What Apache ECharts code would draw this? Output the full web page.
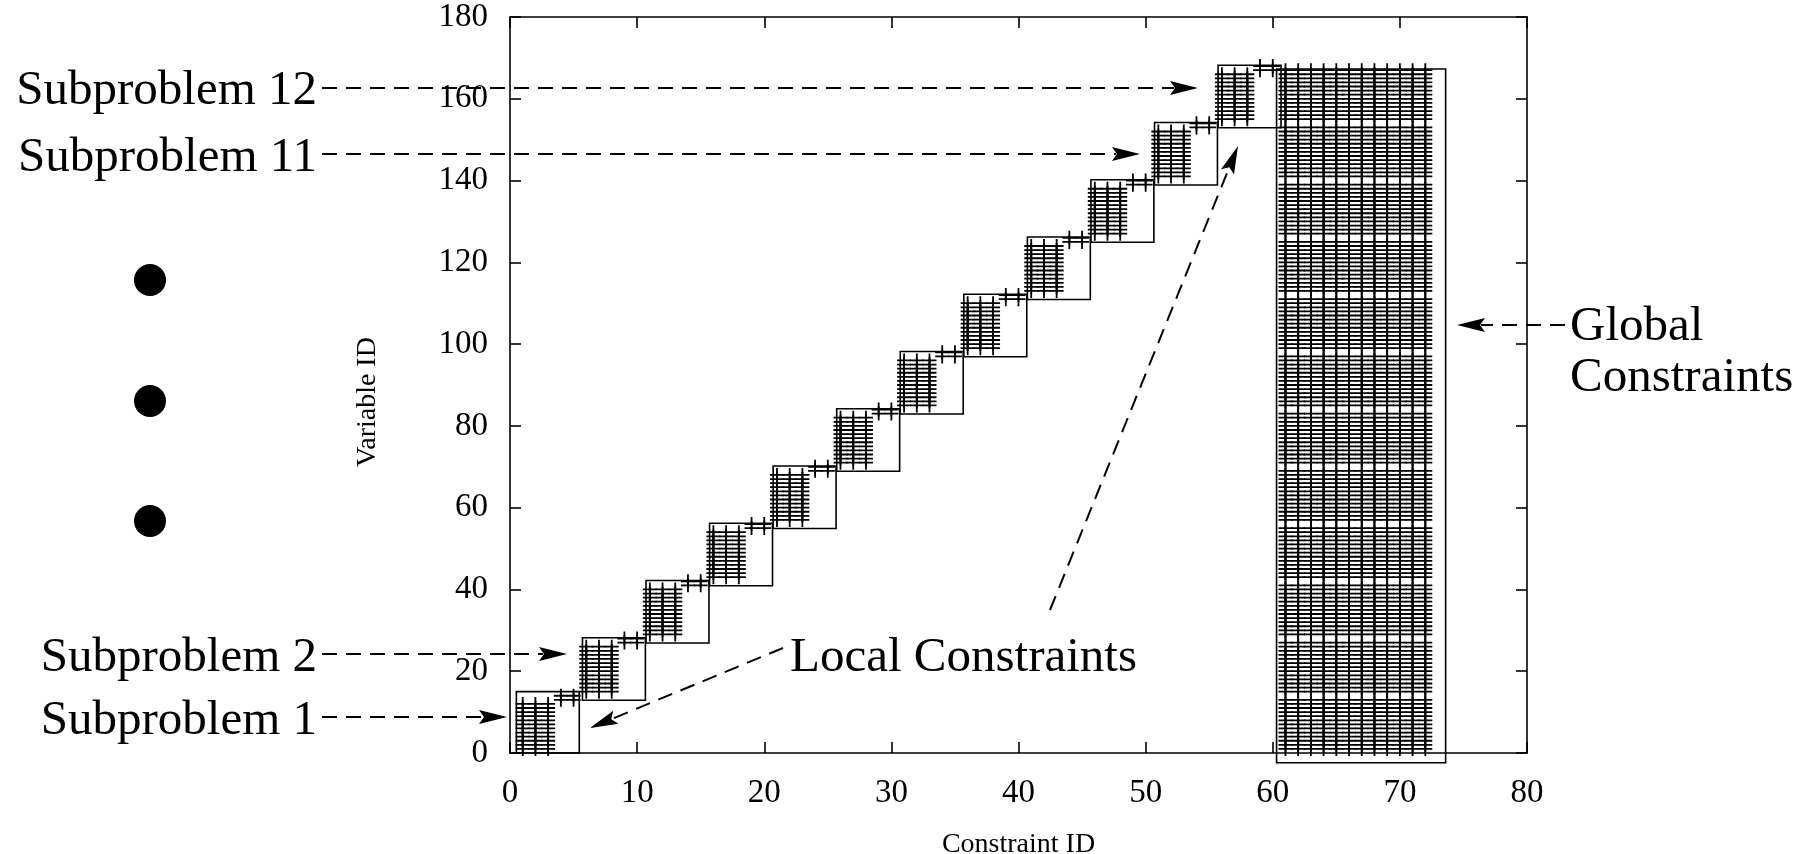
<!DOCTYPE html>
<html>
<head>
<meta charset="utf-8">
<script src="https://cdn.jsdelivr.net/npm/echarts@6/dist/echarts.min.js"></script>
<style>
html, body { margin: 0; padding: 0; background: #fff; }
#main { width: 1805px; height: 854px; }
</style>
</head>
<body>
<div id="main"></div>
<script>
// block structure (constraint ID on x, variable ID on y)
var subproblems = ['1', '2', '3', '4', '5', '6', '7', '8', '9', '10', '11', '12'];

// local constraints of each subproblem and the variable range they touch
var localCons = [[1, 2, 3], [6, 7, 8], [11, 12, 13], [16, 17, 18], [21, 22, 23], [26, 27, 28],
    [31, 32, 33], [36, 37, 38], [41, 42, 43], [46, 47, 48], [51, 52, 53], [56, 57, 58]];
var localVars = [[1, 12], [15, 26], [29, 40], [43, 54], [57, 68], [71, 82],
    [85, 96], [99, 110], [113, 124], [127, 138], [141, 152], [155, 166]];

// the small "++" groups at the top right of each block
var linkCons = [[4, 5], [9, 10], [14, 15], [19, 20], [24, 25], [29, 30],
    [34, 35], [39, 40], [44, 45], [49, 50], [54, 55], [59, 60]];
var linkVars = [[13, 14], [27, 28], [41, 42], [55, 56], [69, 70], [83, 84],
    [97, 98], [111, 112], [125, 126], [139, 140], [153, 154], [167, 168]];

// global constraints: every variable except the last one of each subproblem
var globalCons = [61, 62, 63, 64, 65, 66, 67, 68, 69, 70, 71, 72];
var globalVars = [[1, 13], [15, 27], [29, 41], [43, 55], [57, 69], [71, 83],
    [85, 97], [99, 111], [113, 125], [127, 139], [141, 153], [155, 167]];

// rectangles drawn round the blocks, in axis units
var boxLeft = [0.5, 5.7, 10.7, 15.7, 20.7, 25.7, 30.7, 35.7, 40.7, 45.7, 50.7, 55.7];
var boxRight = [5.45, 10.65, 15.65, 20.65, 25.65, 30.65, 35.65, 40.65, 45.65, 50.65, 55.65, 60.65];
var boxBottom = [0, 12.9, 26.9, 40.9, 54.9, 68.9, 82.9, 96.9, 110.9, 124.9, 138.9, 152.9];
var boxTop = [15, 28.2, 42.2, 56.2, 70.2, 84.2, 98.2, 112.2, 126.2, 140.2, 154.2, 168.2];
var globalBox = [60.3, 73.6, -2.4, 167.3];

var serif = '"Liberation Serif", "DejaVu Serif", serif';

var chart = echarts.init(document.getElementById('main'));

var marks = [];
function addBlock(cons, range) {
    cons.forEach(function (c) {
        for (var v = range[0]; v <= range[1]; v++) {
            marks.push([c, v]);
        }
    });
}
subproblems.forEach(function (s, i) {
    addBlock(localCons[i], localVars[i]);
    addBlock(linkCons[i], linkVars[i]);
    addBlock(globalCons, globalVars[i]);
});

var boxes = subproblems.map(function (s, i) {
    return [boxLeft[i], boxRight[i], boxBottom[i], boxTop[i]];
});
boxes.push(globalBox);

var plus = 'path://M0,6.1H14V7.9H0Z M6.1,0H7.9V14H6.1Z';

function arrow(x1, y1, x2, y2) {
    var dx = x2 - x1, dy = y2 - y1;
    var len = Math.sqrt(dx * dx + dy * dy);
    var ux = dx / len, uy = dy / len;
    var bx = x2 - ux * 28, by = y2 - uy * 28;
    return [
        {
            type: 'line',
            shape: { x1: x1, y1: y1, x2: bx + ux * 4, y2: by + uy * 4 },
            style: { stroke: '#000', lineWidth: 2, lineDash: [15, 9] }
        },
        {
            type: 'polygon',
            shape: {
                points: [[x2, y2], [bx - uy * 7, by + ux * 7], [bx + ux * 5, by + uy * 5], [bx + uy * 7, by - ux * 7]]
            },
            style: { fill: '#000' }
        }
    ];
}

function label(text, x, y, align) {
    return {
        type: 'text',
        style: {
            text: text, x: x, y: y,
            font: '49px ' + serif,
            fill: '#000',
            align: align, textAlign: align,
            verticalAlign: 'middle', textVerticalAlign: 'middle'
        }
    };
}

var graphics = [].concat(
    label('Subproblem 12', 317, 91, 'right'),
    label('Subproblem 11', 317, 158, 'right'),
    label('Subproblem 2', 317, 658, 'right'),
    label('Subproblem 1', 317, 721, 'right'),
    label('Local Constraints', 790, 658, 'left'),
    label('Global', 1570, 327, 'left'),
    label('Constraints', 1570, 378, 'left'),
    arrow(322, 88, 1198, 88),
    arrow(322, 154, 1140, 154),
    arrow(322, 654, 567, 654),
    arrow(322, 717, 507, 717),
    arrow(1565, 325, 1457, 325),
    arrow(783, 648, 590, 728),
    arrow(1050, 610, 1238, 146),
    [280, 401, 521].map(function (y) {
        return { type: 'circle', shape: { cx: 150, cy: y, r: 16 }, style: { fill: '#000' } };
    })
);

var axisCommon = {
    type: 'value',
    splitLine: { show: false },
    axisLine: { show: true, onZero: false, lineStyle: { color: '#000', width: 1.6 } },
    axisTick: { show: true, inside: true, length: 11, lineStyle: { color: '#000', width: 1.6 } }
};

option = {
    animation: false,
    backgroundColor: '#fff',
    grid: { left: 510, right: 278, top: 17, bottom: 101, outerBoundsMode: 'none' },
    xAxis: [
        Object.assign({}, axisCommon, {
            position: 'bottom', min: 0, max: 80, interval: 10,
            name: 'Constraint ID', nameLocation: 'middle', nameGap: 78,
            nameTextStyle: { fontFamily: serif, fontSize: 28, color: '#000' },
            axisLabel: { fontFamily: serif, fontSize: 33, color: '#000', margin: 24 }
        }),
        Object.assign({}, axisCommon, {
            position: 'top', min: 0, max: 80, interval: 10,
            axisLabel: { show: false }
        })
    ],
    yAxis: [
        Object.assign({}, axisCommon, {
            position: 'left', min: 0, max: 180, interval: 20,
            name: 'Variable ID', nameLocation: 'middle', nameGap: 128, nameRotate: 90,
            nameTextStyle: { fontFamily: serif, fontSize: 28, color: '#000', padding: [0, 34, 0, 0] },
            axisLabel: { fontFamily: serif, fontSize: 33, color: '#000', margin: 22 }
        }),
        Object.assign({}, axisCommon, {
            position: 'right', min: 0, max: 180, interval: 20,
            axisLabel: { show: false }
        })
    ],
    series: [
        {
            type: 'scatter',
            data: marks,
            symbol: plus,
            symbolSize: 14,
            itemStyle: { color: '#000', opacity: 1 },
            silent: true
        },
        {
            type: 'custom',
            data: boxes,
            clip: false,
            silent: true,
            renderItem: function (params, api) {
                var p0 = api.coord([api.value(0), api.value(3)]);
                var p1 = api.coord([api.value(1), api.value(2)]);
                return {
                    type: 'rect',
                    shape: { x: p0[0], y: p0[1], width: p1[0] - p0[0], height: p1[1] - p0[1] },
                    style: { fill: 'none', stroke: '#000', lineWidth: 1.6 }
                };
            }
        }
    ],
    graphic: graphics
};

chart.setOption(option);
</script>
</body>
</html>
